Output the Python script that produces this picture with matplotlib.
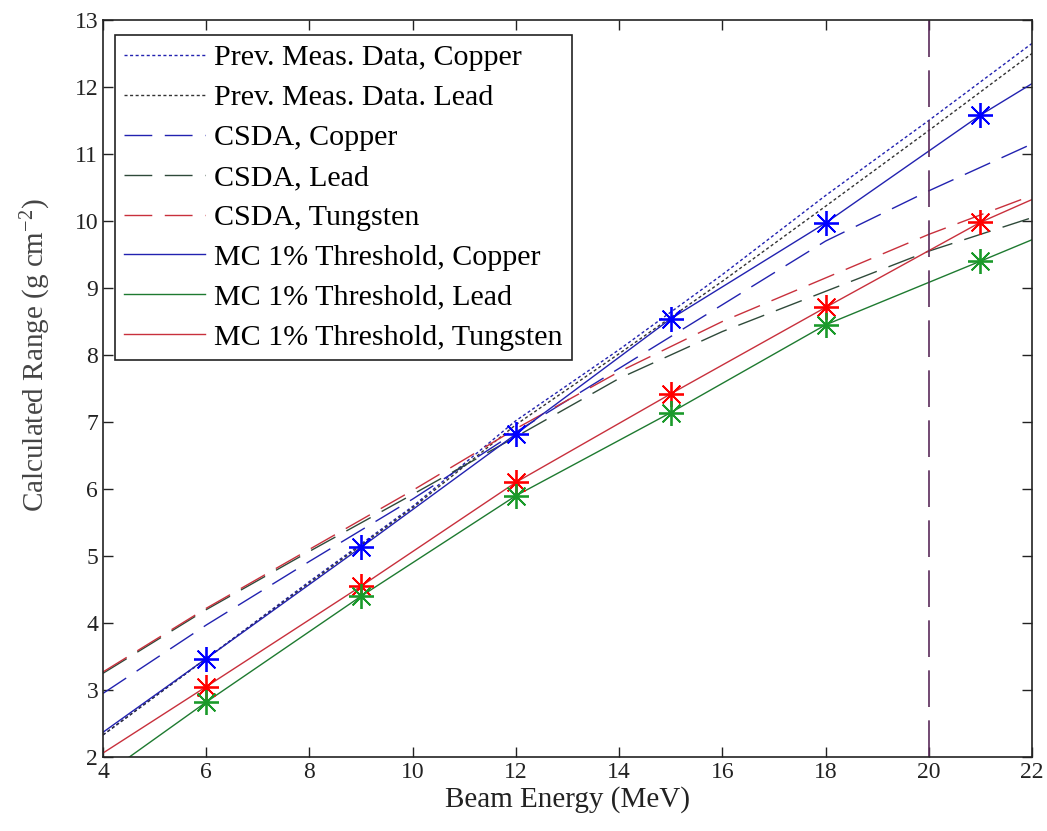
import matplotlib
matplotlib.use("Agg")
import numpy as np
from matplotlib import pyplot as plt

# Values
mc_energy = [4, 6, 9, 12, 15, 18, 21, 22]
mc_copper = [2.37, 3.47, 5.13, 6.82, 8.54, 9.97, 11.58, 12.05]
mc_lead = [1.72, 2.82, 4.40, 5.90, 7.14, 8.45, 9.40, 9.72]
mc_tungsten = [2.06, 3.05, 4.55, 6.10, 7.42, 8.71, 9.98, 10.32]

star_energy = [6, 9, 12, 15, 18, 21]
star_copper = [3.47, 5.13, 6.82, 8.54, 9.97, 11.58]
star_lead = [2.82, 4.40, 5.90, 7.14, 8.45, 9.40]
star_tungsten = [3.05, 4.55, 6.10, 7.42, 8.71, 9.98]

curve_energy = [4, 6, 8, 10, 12, 14, 16, 18, 20, 22]
prev_copper = [2.33, 3.47, 4.62, 5.74, 7.02, 8.08, 9.20, 10.38, 11.50, 12.65]
prev_lead = [2.33, 3.47, 4.60, 5.72, 6.96, 8.02, 9.10, 10.22, 11.35, 12.50]
csda_copper = [2.95, 3.97, 4.92, 5.85, 6.85, 7.80, 8.75, 9.70, 10.45, 11.15]
csda_lead = [3.25, 4.20, 5.07, 5.92, 6.78, 7.65, 8.35, 8.95, 9.55, 10.05]
csda_tungsten = [3.27, 4.22, 5.10, 5.98, 6.90, 7.75, 8.50, 9.15, 9.80, 10.38]

cutoff_energy = 20

plt.rcParams["font.family"] = ["Liberation Serif", "DejaVu Serif"]
plt.rcParams["mathtext.fontset"] = "custom"
plt.rcParams["mathtext.rm"] = "Liberation Serif"
plt.rcParams["mathtext.it"] = "Liberation Serif:italic"

blue = "#2222b0"
green = "#1e7a30"
red = "#c8303c"
dotted = (0, (2.2, 1.8))
dashed = (0, (20, 9))

fig = plt.figure(figsize=(10.47, 8.31), dpi=100)
ax = fig.add_axes([0.0984, 0.089, 0.8873, 0.887])

ax.plot(curve_energy, prev_copper, color=blue, linestyle=dotted, lw=1.0,
        label="Prev. Meas. Data, Copper")
ax.plot(curve_energy, prev_lead, color="#333333", linestyle=dotted, lw=1.0,
        label="Prev. Meas. Data. Lead")
ax.plot(curve_energy, csda_copper, color=blue, linestyle=dashed, lw=1.0,
        label="CSDA, Copper")
ax.plot(curve_energy, csda_lead, color="#2f4a3a", linestyle=dashed, lw=1.0,
        label="CSDA, Lead")
ax.plot(curve_energy, csda_tungsten, color=red, linestyle=dashed, lw=1.0,
        label="CSDA, Tungsten")
ax.plot(mc_energy, mc_copper, color=blue, lw=1.0,
        label="MC 1% Threshold, Copper")
ax.plot(mc_energy, mc_lead, color=green, lw=1.0,
        label="MC 1% Threshold, Lead")
ax.plot(mc_energy, mc_tungsten, color=red, lw=1.0,
        label="MC 1% Threshold, Tungsten")

star = (8, 2, 0)
ax.plot(star_energy, star_copper, linestyle="none", marker=star, ms=18,
        mew=1.3, color="#0000ff")
ax.plot(star_energy, star_tungsten, linestyle="none", marker=star, ms=18,
        mew=1.3, color="#ff0000")
ax.plot(star_energy, star_lead, linestyle="none", marker=star, ms=18,
        mew=1.3, color="#1a9a2a")

ax.axvline(cutoff_energy, color="#5a2a5a", lw=1.2, linestyle=(0, (22, 8)))

ax.set_xlim(4, 22)
ax.set_ylim(2, 13)
ax.set_xticks(np.arange(4, 23, 2))
ax.set_yticks(np.arange(2, 14, 1))
ax.tick_params(direction="in", top=True, right=True, length=7, width=1,
               labelsize=17, colors="#222222")
for spine in ax.spines.values():
    spine.set_linewidth(1.2)
    spine.set_color("#222222")

ax.set_xlabel("Beam Energy (MeV)", fontsize=21, color="#222222", labelpad=2)
ax.set_ylabel(r"Calculated Range (g cm$^{-2}$)", fontsize=21,
              color="#444444")
ax.yaxis.set_label_coords(-0.054, 0.545)

leg = ax.legend(loc="upper left", bbox_to_anchor=(0.013, 0.979), fontsize=21.6,
                handlelength=2.7, handletextpad=0.3, labelspacing=0.43,
                borderpad=0.3, borderaxespad=0, fancybox=False,
                framealpha=1, edgecolor="#222222")
leg.get_frame().set_linewidth(1.2)

fig.savefig("out.png", dpi=100)
